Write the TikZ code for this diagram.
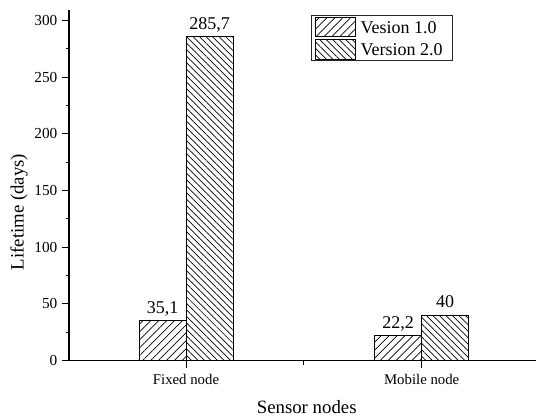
\documentclass[tikz,border=0pt]{standalone}
\usepackage{fontspec}
\setmainfont{Liberation Serif}
\usetikzlibrary{patterns.meta}
\tikzset{
  axisline/.style={line width=1.3pt, black},
  majtick/.style={line width=1pt, black},
  mintick/.style={line width=0.9pt, black},
  barbox/.style={draw=black, line width=0.8pt},
  hatchA/.style={pattern={Lines[angle=45, distance=5.6pt, line width=0.7pt]}},
  hatchB/.style={pattern={Lines[angle=-45, distance=4.6pt, line width=0.7pt]}},
  ticklab/.style={font=\fontsize{15.3}{17}\selectfont, inner sep=0pt},
  catlab/.style={font=\fontsize{14.8}{16}\selectfont, inner sep=0pt},
  vallab/.style={font=\fontsize{18}{20}\selectfont, inner sep=0pt, anchor=base},
  titlelab/.style={font=\fontsize{18.8}{20}\selectfont, inner sep=0pt, anchor=base},
  leglab/.style={font=\fontsize{18}{19}\selectfont, inner sep=0pt, anchor=west},
}
\begin{document}
\begin{tikzpicture}[x=1pt, y=-1pt]
\useasboundingbox (0,0) rectangle (536,416);
% y mapping: 360.7 - 1.1347 v
\def\yz{360.7}
\def\ys{1.1347}
% bars
\draw[barbox, hatchA] (139.3,360.7) rectangle (186,{\yz-\ys*35.1});
\draw[barbox, hatchB] (186,360.7) rectangle (233.3,{\yz-\ys*285.7});
\draw[barbox, hatchA] (374.7,360.7) rectangle (421.7,{\yz-\ys*22.2});
\draw[barbox, hatchB] (421.7,360.7) rectangle (468.7,{\yz-\ys*40});
% value labels
\node[vallab] (v1) at (162.6,{\yz-\ys*35.1-7.5}) {35,1};
\node[vallab] (v2) at (209.7,{\yz-\ys*285.7-7.5}) {285,7};
\node[vallab] (v3) at (398.2,{\yz-\ys*22.2-7.2}) {22,2};
\node[vallab] (v4) at (445.2,{\yz-\ys*40-7.8}) {40};
% y axis
\draw[axisline] (69,10) -- (69,361.3);
\foreach \v in {0,50,...,300} {
  \draw[majtick] (62,{\yz-\ys*\v}) -- (69,{\yz-\ys*\v});
  \node[ticklab, anchor=east] at (57.5,{\yz-\ys*\v}) {\v};
}
\foreach \v in {25,75,...,275} {
  \draw[mintick] (65.5,{\yz-\ys*\v}) -- (69,{\yz-\ys*\v});
}
% x axis
\draw[axisline] (68.4,360.7) -- (536,360.7);
\draw[majtick] (186,360.7) -- (186,367.5);
\draw[majtick] (421.7,360.7) -- (421.7,367.5);
\draw[mintick] (303.9,360.7) -- (303.9,364.5);
\node[catlab] (c1) at (186,379.5) {Fixed node};
\node[catlab] (c2) at (421.7,379.5) {Mobile node};
% axis titles
\node[titlelab] (xt) at (306.7,413.3) {Sensor nodes};
\node[titlelab, rotate=90] (yt) at (23.5,212) {Lifetime (days)};
% legend
\draw[line width=0.8pt, black!85] (311,15) rectangle (452,60.7);
\draw[barbox, hatchA] (315.7,17.3) rectangle (355.7,36);
\draw[barbox, hatchB] (315.7,39.3) rectangle (355.7,59);
\node[leglab] (l1) at (360.5,27.3) {Vesion 1.0};
\node[leglab] (l2) at (360.5,49.3) {Version 2.0};
\end{tikzpicture}
\end{document}
